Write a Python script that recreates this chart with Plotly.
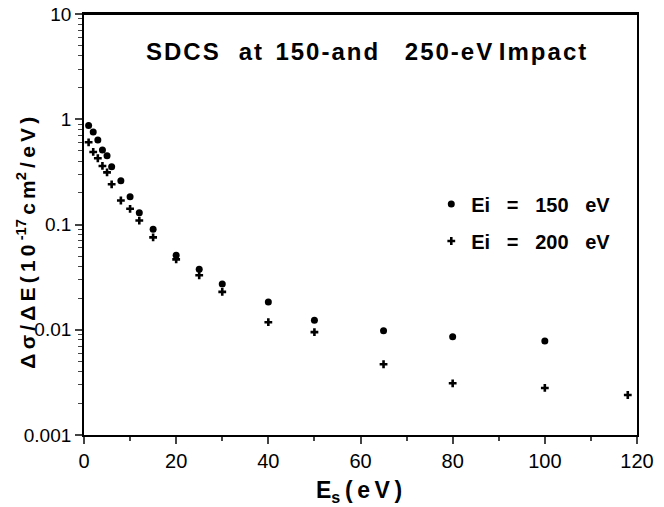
import plotly.graph_objects as go

# Secondary electron energy Es (eV)
es_150 = [1, 2, 3, 4, 5, 6, 8, 10, 12, 15, 20, 25, 30, 40, 50, 65, 80, 100]
sdcs_150 = [0.87, 0.757, 0.635, 0.511, 0.451, 0.354, 0.261, 0.184, 0.129, 0.090,
            0.0509, 0.0375, 0.0272, 0.0184, 0.0123, 0.0098, 0.0086, 0.0078]

es_200 = [1, 2, 3, 4, 5, 6, 8, 10, 12, 15, 20, 25, 30, 40, 50, 65, 80, 100, 118]
sdcs_200 = [0.604, 0.489, 0.426, 0.360, 0.313, 0.241, 0.169, 0.141, 0.109, 0.0755,
            0.0466, 0.0329, 0.0229, 0.0118, 0.0095, 0.0047, 0.0031, 0.0028, 0.0024]

y_tickvals = [0.001, 0.01, 0.1, 1, 10]
y_ticktext = ["0.001", "0.01", "0.1", "1", "10"]
x_tickvals = [0, 20, 40, 60, 80, 100, 120]

FONT = "Arial, Liberation Sans, Helvetica, sans-serif"
sp = "&nbsp;"
thin = "\u2009"
hair = "\u200a"


def spaced(parts, gap):
    return gap.join(parts)


legend_150 = "Ei" + sp * 3 + "=" + sp * 3 + "150" + sp * 3 + "eV"
legend_200 = "Ei" + sp * 3 + "=" + sp * 3 + "200" + sp * 3 + "eV"

title_txt = spaced(list("SDCS"), hair) + sp * 3 + spaced(list("at"), hair) + sp * 2 + \
    spaced(list("150-and"), hair) + sp * 4 + spaced(list("250-eV"), hair) + sp + \
    spaced(list("Impact"), hair)

ytitle = thin.join(["Δ", "σ", "/", "Δ", "E", "(", "1", "0"]) + thin + \
    "<sup>-17</sup>" + thin + "c" + thin + "m" + "<sup>2</sup>" + thin + \
    thin.join(["/", "e", "V", ")"])
xtitle = "E<sub>s</sub>" + thin + thin.join(["(", "e", "V", ")"])

fig = go.Figure()
fig.add_trace(go.Scatter(
    x=es_150, y=sdcs_150, mode="markers", name=legend_150,
    marker=dict(symbol="circle", size=7, color="black"), legendgroup="a"))
fig.add_trace(go.Scatter(
    x=es_200, y=sdcs_200, mode="markers", name=legend_200,
    marker=dict(symbol="cross", size=6.5, color="black"), legendgroup="b"))

# The page adds an 8px body margin, so the figure is 8px smaller and offset.
fig.update_layout(
    width=656, height=499,
    margin=dict(l=76, r=27, t=6, b=72),
    paper_bgcolor="white", plot_bgcolor="white",
    font=dict(family=FONT, color="black", size=18),
    showlegend=True,
    legend=dict(x=0.628, y=0.595, xanchor="left", yanchor="top",
                font=dict(size=20, family=FONT, weight="bold"),
                traceorder="grouped", tracegroupgap=8,
                itemsizing="trace", bgcolor="rgba(0,0,0,0)"),
    xaxis=dict(range=[0, 120], tickvals=x_tickvals, ticks="outside", ticklen=7,
               tickwidth=1.5, linewidth=1.8, linecolor="black", mirror=True,
               showgrid=False, zeroline=False, tickfont=dict(size=20),
               automargin=False, ticklabeloverflow="allow",
               minor=dict(dtick=10, ticks="outside", ticklen=4, tickwidth=1.5, showgrid=False)),
    yaxis=dict(type="log", range=[-3, 1], tickvals=y_tickvals, ticktext=y_ticktext,
               ticks="outside", ticklen=7, tickwidth=1.5, linewidth=1.8, linecolor="black",
               mirror=True, showgrid=False, zeroline=False, tickfont=dict(size=19),
               automargin=False, ticklabeloverflow="allow",
               minor=dict(tickmode="array",
                          tickvals=[m * 10 ** e for e in range(-3, 1) for m in range(2, 10)],
                          ticks="outside", ticklen=4, tickwidth=1.2, showgrid=False)),
    shapes=[dict(type="line", xref="paper", yref="paper", x0=0, x1=1, y0=1, y1=1,
                 line=dict(color="black", width=1.8))],
    annotations=[
        dict(text=title_txt, xref="paper", yref="paper", x=0.51, y=0.91,
             xanchor="center", yanchor="middle", showarrow=False,
             font=dict(size=24, weight="bold", family=FONT)),
        dict(text=ytitle, xref="paper", yref="paper", x=-0.104, y=0.458,
             xanchor="center", yanchor="middle", textangle=-90, showarrow=False,
             font=dict(size=21, weight="bold", family=FONT)),
        dict(text=xtitle, xref="paper", yref="paper", x=0.497, y=-0.135,
             xanchor="center", yanchor="middle", showarrow=False,
             font=dict(size=23, weight="bold", family=FONT)),
    ],
)

fig.write_html("out.html")
